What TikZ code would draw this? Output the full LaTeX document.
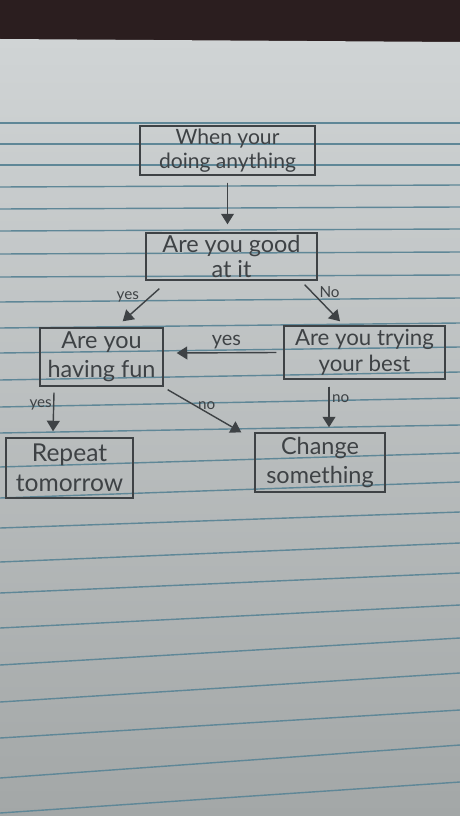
\documentclass[tikz,border=0pt]{standalone}
\usepackage{fontspec}
\setmainfont{Lato}
\usepackage{tikz}
\usetikzlibrary{calc,positioning,arrows.meta}
\definecolor{deskbrown}{HTML}{2B1E1F}
\definecolor{papertop}{HTML}{D0D4D5}
\definecolor{paperbot}{HTML}{A3A7A7}
\definecolor{ruleblue}{HTML}{5F8797}
\definecolor{pencil}{HTML}{3E4245}

\begin{document}
\begin{tikzpicture}[x=0.03cm,y=-0.03cm,>={Triangle[width=11pt,length=9pt]},
  pencilbox/.style={draw=pencil,line width=1.2pt,text=pencil,align=center,inner sep=0pt},
  flowarrow/.style={->,draw=pencil,fill=pencil,line width=1.2pt},
  edgelabel/.style={text=pencil,inner sep=0pt,font=\fontsize{13}{14}\selectfont}]
  \useasboundingbox (0,0) rectangle (460,816);
  % desk and sheet
  \fill[deskbrown] (0,0) rectangle (460,42);
  \shade[top color=papertop,bottom color=paperbot] (0,39) -- (460,42) -- (460,816) -- (0,816) -- cycle;
  \foreach \yl/\yr in {123/123,144/144,165/165,187/185,209/207,231/229,254/252,277/275,
    302/298,328/323,353/347,380/372,407/398,433/425,467/453,498/482,528/512,562/543,
    593/573,628/605,665/638,702/673,738/710,778/745,813/782}
    \draw[ruleblue,line width=1.2pt] (0,\yl) -- (460,\yr);
  % boxes
  \node[pencilbox,minimum width=5.25cm,minimum height=1.47cm,font=\fontsize{18}{20}\selectfont]
    (when) at (227.5,150.5) {When your\\doing anything};
  \node[pencilbox,minimum width=5.13cm,minimum height=1.41cm,font=\fontsize{20}{22}\selectfont]
    (good) at (231.5,256.5) {Are you good\\at it};
  \node[pencilbox,minimum width=3.69cm,minimum height=1.74cm,font=\fontsize{20}{25}\selectfont]
    (fun) at (101.5,357) {Are you\\having fun};
  \node[pencilbox,minimum width=4.83cm,minimum height=1.59cm,font=\fontsize{19}{22}\selectfont]
    (trying) at (364.5,352.5) {Are you trying\\your best};
  \node[pencilbox,minimum width=3.81cm,minimum height=1.80cm,font=\fontsize{21}{26}\selectfont]
    (repeat) at (69.5,468) {Repeat\\tomorrow};
  \node[pencilbox,minimum width=3.90cm,minimum height=1.77cm,font=\fontsize{20}{24}\selectfont]
    (change) at (320,462.5) {Change\\something};
  % arrows
  \draw[flowarrow] ($(when.south)+(0,7)$) -- ($(when.south |- good.north)+(0,-8)$);
  \draw[flowarrow] ($(good.south west)+(14,8)$) -- ($(fun.north east)+(-41,-6)$)
    node[edgelabel,pos=0.25,left=9pt] {yes};
  \draw[flowarrow] ($(good.south east)+(-13,4)$) -- ($(trying.north)+(-24.5,-4)$)
    node[edgelabel,pos=0.2,right=6pt] {No};
  \draw[flowarrow] ($(trying.west)+(-7,0)$) -- ($(fun.east)+(13,-4)$)
    node[edgelabel,midway,above=3pt,font=\fontsize{17}{18}\selectfont] {yes};
  \draw[flowarrow] ($(fun.south east)+(4,3)$) -- ($(change.north west)+(-13,0)$)
    node[edgelabel,pos=0.53,above=2pt] {no};
  \draw[flowarrow] ($(trying.south)+(-35.5,7)$) -- ($(change.north)+(9,-5)$)
    node[edgelabel,pos=0.3,right=2pt] {no};
  \draw[flowarrow] ($(fun.south)+(-47.5,6)$) -- ($(repeat.north)+(-16.5,-6)$)
    node[edgelabel,pos=0.32,left=1pt] {yes};
\end{tikzpicture}
\end{document}
